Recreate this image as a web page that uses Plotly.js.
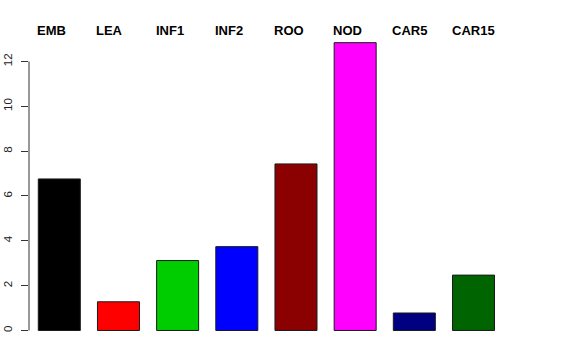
<!DOCTYPE html>
<html>
<head>
<meta charset="utf-8">
<script src="https://cdn.plot.ly/plotly-3.0.1.min.js"></script>
<style>html,body{margin:0;padding:0;background:#fff;}#chart{width:576px;height:360px;}</style>
</head>
<body>
<div id="chart"></div>
<script>
const categories = ["EMB", "LEA", "INF1", "INF2", "ROO", "NOD", "CAR5", "CAR15"];
const values = [6.76, 1.28, 3.12, 3.74, 7.43, 12.84, 0.78, 2.47];
const barColors = ["#000000", "#FF0000", "#00CD00", "#0000FF", "#8B0000", "#FF00FF", "#000080", "#006400"];
const yTicks = [0, 2, 4, 6, 8, 10, 12];
const yTickLabels = ["0", "2", "4", "6", "8", "10", "12"];

const trace = {
  type: "bar",
  x: categories,
  y: values,
  width: 0.71,
  marker: { color: barColors, line: { color: "#1a1a1a", width: 1 } },
  hoverinfo: "none"
};

const annotations = categories.map((c) => ({
  x: c, y: 1, xref: "x", yref: "paper",
  text: "<b>" + c + "</b>",
  showarrow: false,
  xanchor: "left", yanchor: "middle",
  xshift: -24, yshift: 1,
  font: { family: "Liberation Sans, Arial, sans-serif", size: 13, color: "#000" }
}));

const layout = {
  width: 576, height: 360,
  margin: { l: 29, r: 67, t: 31, b: 17.5, pad: 0 },
  paper_bgcolor: "#fff", plot_bgcolor: "#fff",
  showlegend: false,
  bargap: 0,
  xaxis: {
    type: "category",
    range: [-0.512, 7.6],
    showticklabels: false, ticks: "", showline: false, showgrid: false, zeroline: false
  },
  yaxis: {
    range: [-0.514, 13.36],
    tickvals: yTicks, ticktext: yTickLabels,
    tickangle: -90,
    ticks: "outside", ticklen: 7, tickwidth: 1, tickcolor: "#333",
    ticklabelstandoff: 4,
    showline: false, showgrid: false, zeroline: false,
    tickfont: { family: "Liberation Sans, Arial, sans-serif", size: 11.5, color: "#222" }
  },
  shapes: [{
    type: "line", xref: "paper", yref: "y",
    x0: 0, x1: 0, y0: yTicks[0], y1: yTicks[yTicks.length - 1],
    line: { color: "#333", width: 1 }
  }],
  annotations: annotations
};

Plotly.newPlot("chart", [trace], layout, { staticPlot: true, displayModeBar: false });
</script>
</body>
</html>
